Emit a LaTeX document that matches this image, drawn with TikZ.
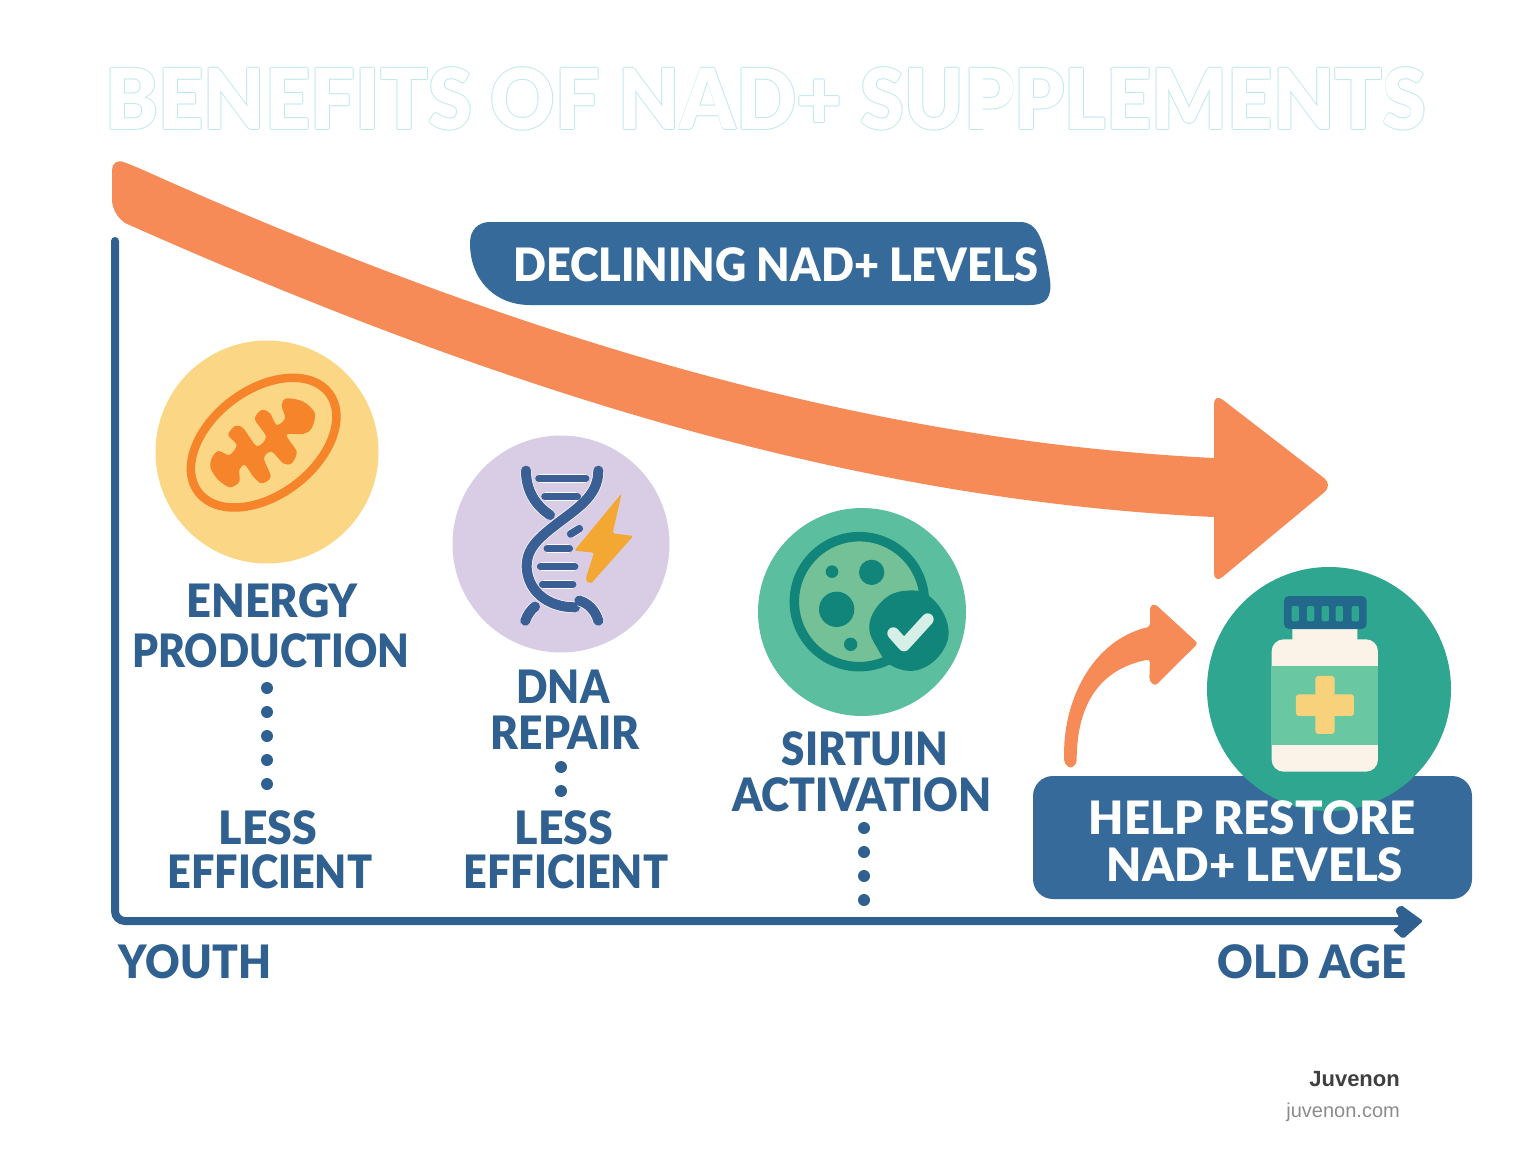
\documentclass[tikz,border=0pt]{standalone}
\usepackage{fontspec}
\setmainfont{Lato Black}
\newfontfamily\markfont{Liberation Sans}
\definecolor{navy}{HTML}{2F6090}
\definecolor{boxblue}{HTML}{366A9A}
\definecolor{coral}{HTML}{F68B57}
\definecolor{sunny}{HTML}{FBD785}
\definecolor{tangerine}{HTML}{F5842B}
\definecolor{lilac}{HTML}{D9CDE5}
\definecolor{helix}{HTML}{3A5F94}
\definecolor{bolt}{HTML}{F3A833}
\definecolor{mint}{HTML}{5BBF9F}
\definecolor{pale}{HTML}{74C197}
\definecolor{deep}{HTML}{12857A}
\definecolor{teal}{HTML}{2FA690}
\definecolor{capblue}{HTML}{22688A}
\definecolor{cream}{HTML}{FBF3E8}
\definecolor{tag}{HTML}{69C7A1}
\definecolor{plus}{HTML}{F8D27A}
\definecolor{ghost}{HTML}{BFE8EC}
\def\disclist{{(267,452)/energy-disc/sunny/223}, {(561,544)/dna-disc/lilac/217}, {(862,612)/sirtuin-disc/mint/208}}
\def\ticklist{{(297,145)/(437,145)}, {(315,200)/(412,200)}, {(392,312)/(418,296)}, {(322,356)/(388,356)}, {(302,410)/(404,410)}, {(308,463)/(398,463)}}
\def\spotlist{{(365,217)/38}, {(246,215)/19}, {(260,328)/53}, {(302,433)/20}}
\tikzstyle{disc}=[circle,inner sep=0pt]
\tikzstyle{heading}=[text=navy,font=\fontsize{46}{48}\selectfont,align=center,inner sep=0pt]
\tikzstyle{inverse}=[text=white,font=\fontsize{46}{48}\selectfont,align=center,inner sep=0pt]
\tikzstyle{axisline}=[draw=navy,line width=8pt,line cap=round,rounded corners=10pt]
\tikzstyle{dotline}=[draw=navy,line width=12pt,line cap=round,dash pattern=on 0pt off 24pt]
\tikzstyle{strand}=[draw=helix,line width=10pt,line cap=round,preaction={draw=white!85!lilac,line width=11.5pt}]
\tikzstyle{rung}=[draw=helix,line width=7.5pt,line cap=round,preaction={draw=white!85!lilac,line width=9pt}]
\tikzstyle{titletext}=[font=\fontsize{84}{84}\selectfont,inner sep=0pt,xscale=0.943]

\begin{document}
\begin{tikzpicture}[x=1pt,y=-1pt]
  \useasboundingbox (0,0) rectangle (1536,1154);
  \fill[white] (0,0) rectangle (1536,1154);

  % The title is white with a faint rim
  \foreach \off [count=\n] in {{(-1,0)},{(1,0)},{(0,-1)},{(0,1)}}
    \node[titletext,text=ghost,shift={\off}] (ghost\n) at (766,99) {BENEFITS OF NAD+ SUPPLEMENTS};
  \node[titletext,text=white] (title) at (766,99) {BENEFITS OF NAD+ SUPPLEMENTS};

  % The big falling arrow
  \fill[coral] (1214,458) [rounded corners=11pt] -- (1214,393) -- (1333,485) -- (1214,584)
    [sharp corners] -- (1214,517)
    .. controls (850,500) and (500,390) .. (125,223)
    [rounded corners=12pt] -- (112,212) -- (112,158) -- (132,165)
    [sharp corners] .. controls (500,330) and (850,440) .. (1214,458) -- cycle;

  % Banner on the arrow
  \fill[boxblue] (490,222) -- (1020,222) .. controls (1038,222) and (1044,240) .. (1050,280)
    .. controls (1052,298) and (1046,305) .. (1030,305) -- (530,305)
    .. controls (495,305) and (470,280) .. (470,243) .. controls (470,230) and (478,222) .. (490,222) -- cycle;
  \node[inverse,anchor=base,xscale=0.94] (banner) at (776,281) {DECLINING NAD+ LEVELS};

  % Axes
  \coordinate (top) at (115,241);
  \coordinate (corner) at (115,921);
  \coordinate (end) at (1405,921);
  \path[axisline] (top) -- (corner) -- (end);
  \fill[navy,rounded corners=2pt] (1395,910) -- (1401,905) -- (1423,921) -- (1403,939) -- (1393,930) -- (1399,926) -- (1399,917) -- cycle;
  \node[heading,anchor=base,xscale=0.925] (youth) at (195,978) {YOUTH};
  \node[heading,anchor=base,xscale=0.954] (oldage) at (1312,978) {OLD AGE};

  % First we draw the discs
  \foreach \pos/\name/\col/\size in \disclist {
    \node[disc,fill=\col,minimum size=\size pt] (\name) at \pos {};
  }

  % Mitochondrion
  \begin{scope}[shift={(140,330)},scale=0.3333]
    \draw[tangerine,line width=8.5pt,rotate around={37:(371,338)}] (371,338) ellipse (246 and 158);
    \fill[tangerine] plot[smooth cycle,tension=0.5] coordinates {(215,385) (235,363) (268,375) (290,345) (265,315) (285,288) (310,295) (350,348) (378,320) (345,268) (365,240) (390,250) (410,285) (435,265) (425,225) (440,205) (490,215) (525,250) (515,295) (490,312) (440,315) (470,365) (455,400) (430,400) (395,365) (372,385) (392,440) (365,460) (340,440) (315,405) (298,420) (298,455) (270,472) (235,450) (212,415)};
  \end{scope}

  % Helix with its bolt
  \begin{scope}[shift={(440,430)},scale=0.3333]
    \path[strand] (258,122) .. controls (258,180) and (285,225) .. (330,255);
    \path[strand] (475,122) .. controls (475,200) and (410,235) .. (340,290)
      .. controls (275,340) and (260,370) .. (260,410)
      .. controls (262,480) and (320,532) .. (405,532);
    \path[strand] (418,512) .. controls (445,520) and (465,540) .. (475,572);
    \path[strand] (285,530) .. controls (272,540) and (262,555) .. (256,572);
    \foreach \from/\to in \ticklist
      \path[rung] \from -- \to;
    \fill[bolt,rounded corners=2pt] (545,190) -- (518,310) -- (580,318) -- (452,462) -- (436,450) -- (462,368) -- (403,362) -- cycle;
  \end{scope}

  % Cell with its check mark
  \begin{scope}[shift={(750,500)},scale=0.3333]
    \draw[deep,fill=pale,line width=9.5pt] (328,305) circle (195);
    \foreach \pos/\rad in \spotlist
      \fill[deep] \pos circle (\rad);
    \fill[deep] plot[smooth cycle,tension=0.7] coordinates {(358,375) (400,300) (470,272) (540,290) (592,370) (580,450) (510,508) (430,500) (385,450)};
    \draw[white!75!mint,line width=12pt,line cap=round,line join=round] (430,400) -- (462,436) -- (533,358);
  \end{scope}

  % Restore box, then the bottle disc over it
  \fill[boxblue,rounded corners=20pt] (1033,776) rectangle (1472,899);
  \node[disc,fill=teal,minimum size=244pt] (bottle-disc) at (1329,689) {};
  \begin{scope}[shift={(1040,560)},scale=0.3333]
    \fill[cream,rounded corners=2pt] (757,200) rectangle (952,250);
    \fill[cream,rounded corners=12pt] (695,238) rectangle (1014,635);
    \fill[tag] (695,318) rectangle (1014,555);
    \fill[capblue,rounded corners=5pt] (732,108) rectangle (980,207);
    \foreach \x in {766,812,856,898,946}
      \fill[teal,rounded corners=2pt] (\x-11,138) rectangle (\x+11,184);
    \fill[plus,rounded corners=3pt] (826,348) rectangle (884,522);
    \fill[plus,rounded corners=3pt] (768,403) rectangle (942,468);
    % Small arrow up to the bottle
    \fill[coral,rounded corners=3pt] (73,610) .. controls (65,420) and (160,240) .. (330,200)
      -- (330,138) -- (345,132) -- (474,250) -- (345,378) -- (328,362) -- (330,298)
      .. controls (190,325) and (110,420) .. (110,610) -- (92,626) -- cycle;
  \end{scope}
  \node[inverse,anchor=base,xscale=0.99] (restore-a) at (1252,834) {HELP RESTORE};
  \node[inverse,anchor=base,xscale=0.987] (restore-b) at (1255,881) {NAD+ LEVELS};

  % Labels of the columns
  \node[heading,anchor=base,xscale=0.944] (energy-a) at (272,617) {ENERGY};
  \node[heading,anchor=base,xscale=0.89] (energy-b) at (271,667) {PRODUCTION};
  \node[heading,anchor=base,xscale=0.9] (dna-a) at (563,703) {DNA};
  \node[heading,anchor=base,xscale=0.925] (dna-b) at (565,749) {REPAIR};
  \node[heading,anchor=base,xscale=0.916] (sirtuin-a) at (865,765) {SIRTUIN};
  \node[heading,anchor=base,xscale=0.93] (sirtuin-b) at (862,811) {ACTIVATION};
  \foreach \x/\name in {268/first,564/second} {
    \node[heading,anchor=base,xscale=0.97] (\name-a) at (\x,844) {LESS};
    \node[heading,anchor=base,xscale=0.9] (\name-b) at (\x+2,888) {EFFICIENT};
  }

  % Connect labels with dots
  \coordinate (dot-a) at (267,688);
  \coordinate (dot-b) at (267,785);
  \coordinate (dot-c) at (561,767);
  \coordinate (dot-d) at (561,792);
  \coordinate (dot-e) at (864,828);
  \coordinate (dot-f) at (864,900);
  \foreach \source/\dest in {dot-a/dot-b,dot-c/dot-d,dot-e/dot-f}
    \path[dotline] (\source) -- (\dest);

  % Mark
  \node[anchor=base east,inner sep=0pt,text=black!75,font=\fontsize{22}{24}\selectfont\markfont\bfseries] (brand) at (1400,1086) {Juvenon};
  \node[anchor=base east,inner sep=0pt,text=black!45,font=\fontsize{20}{24}\selectfont\markfont] (site) at (1400,1117) {juvenon.com};
\end{tikzpicture}
\end{document}
